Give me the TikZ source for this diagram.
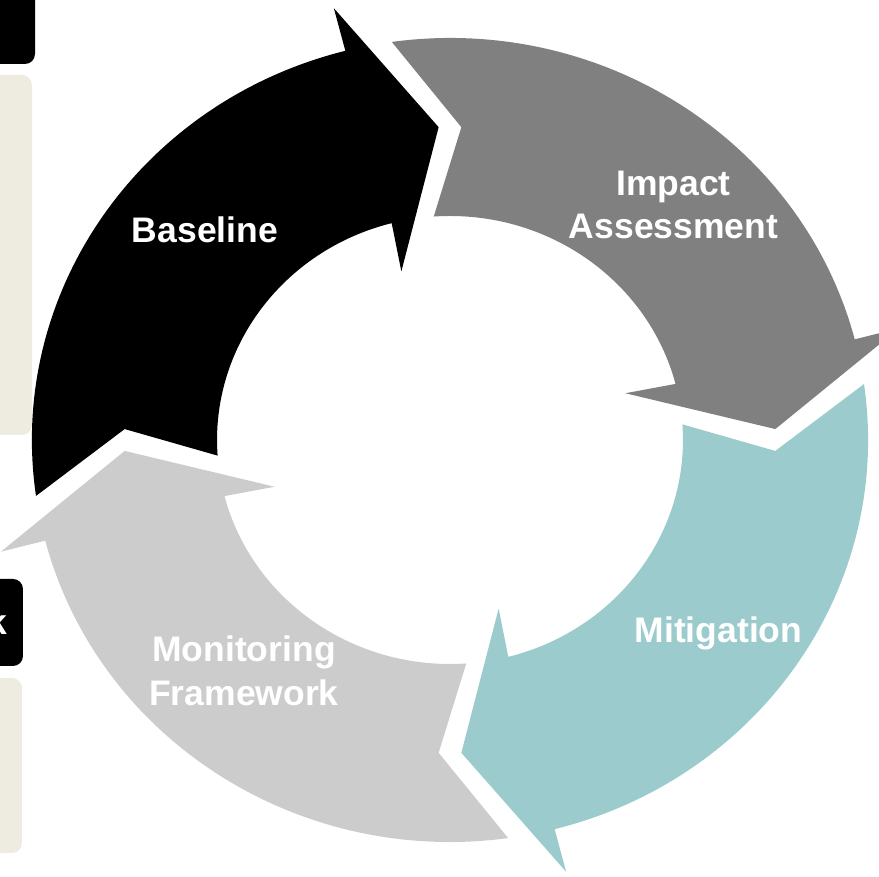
\documentclass[tikz,border=0pt]{standalone}
\usepackage{fontspec}
\setmainfont{Liberation Sans}
\usepackage{tikz}
\usetikzlibrary{positioning}

\definecolor{impactgray}{HTML}{808080}
\definecolor{mitigteal}{HTML}{9BCBCC}
\definecolor{monitorgray}{HTML}{CCCCCC}
\definecolor{sidebeige}{HTML}{EEECE1}

\begin{document}
\begin{tikzpicture}[
    lbl/.style={text=white, font=\bfseries\fontsize{10.1}{12.5}\selectfont, align=center, inner sep=0pt},
    sidebox/.style={rounded corners=0.1cm}]
\useasboundingbox (0,0) rectangle (8.79,8.77);
\clip (0,0) rectangle (8.79,8.77);
% boxes cut off at the left
\fill[sidebox, black]      (-0.5,8.13) rectangle (0.35,9.3);
\fill[sidebox, sidebeige]  (-0.5,4.42) rectangle (0.32,8.02);
\fill[sidebox, black]      (-0.5,2.11) rectangle (0.23,2.98);
\fill[sidebox, sidebeige]  (-0.5,0.24) rectangle (0.22,1.99);
\node[lbl, anchor=base east] (kcut) at (0.075,2.42) {k};
% the four arrows of the cycle
\begin{scope}[shift={(4.50,4.37)}, xscale=1.04]
\foreach \col/\rot in {black/0, impactgray/-90, mitigteal/-180, monitorgray/-270}
    \fill[\col, rotate=\rot] (188:4.02) arc[start angle=188, end angle=104.5, radius=4.02]
        -- (104.5:4.46) -- (92:3.13) -- (105.5:1.75) -- (104.5:2.24)
        arc[start angle=104.5, end angle=184, radius=2.24]
        -- (178:3.13) -- cycle;
\end{scope}
% labels
\node[lbl, anchor=base] (baseline)   at (2.05,6.34)   {Baseline};
\node[lbl]              (impact)     at (6.735,6.72)  {Impact\\Assessment};
\node[lbl, anchor=base] (mitigation) at (7.185,2.34)  {Mitigation};
\node[lbl]              (monitoring) at (2.44,2.06)   {Monitoring\\Framework};
\end{tikzpicture}
\end{document}
